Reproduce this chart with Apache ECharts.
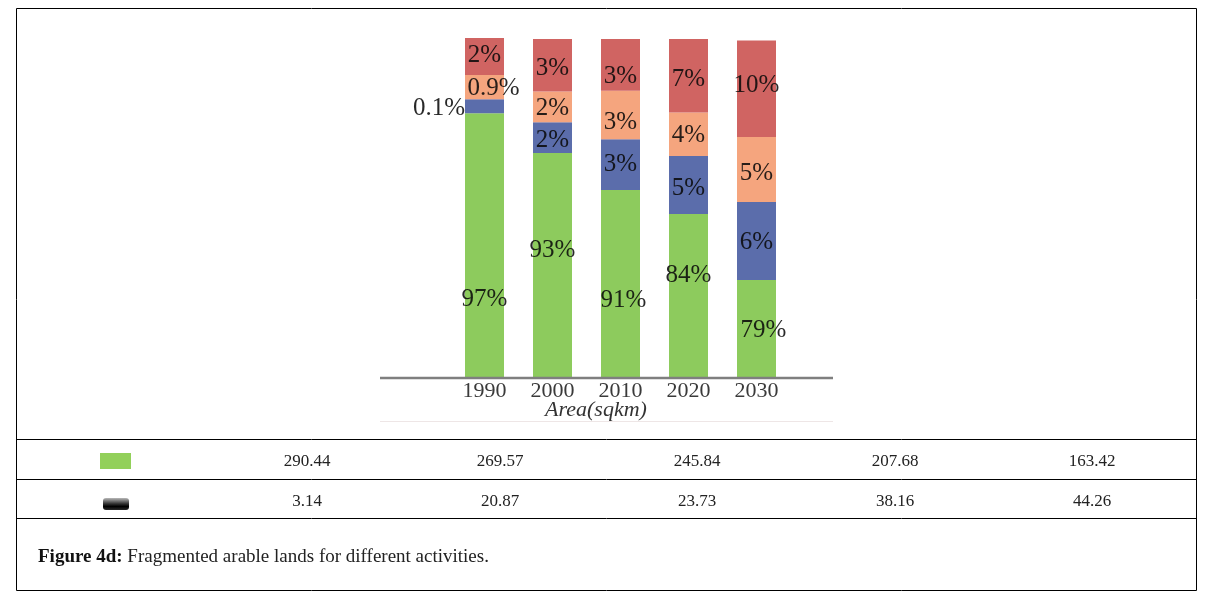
<!DOCTYPE html>
<html>
<head>
<meta charset="utf-8">
<script src="https://cdn.jsdelivr.net/npm/echarts@6/dist/echarts.min.js"></script>
<style>
html,body{margin:0;padding:0;background:#fff;}
#chart{width:1217px;height:601px;}
</style>
</head>
<body>
<div id="chart"></div>
<script>
// ---- data ----
var years = ['1990', '2000', '2010', '2020', '2030'];
// segment shares as drawn in the figure (bar height share, %)
var greenValues  = [77.9, 66.2, 55.3, 48.2, 28.8];
var blueValues   = [4.1, 9.0, 14.9, 17.1, 23.0];
var orangeValues = [7.1, 9.1, 14.3, 12.8, 19.1];
var redValues    = [10.9, 15.4, 15.2, 21.6, 28.4];
// percentage labels printed on the segments
var greenLabels  = ['97%', '93%', '91%', '84%', '79%'];
var blueLabels   = ['0.1%', '2%', '3%', '5%', '6%'];
var orangeLabels = ['0.9%', '2%', '3%', '4%', '5%'];
var redLabels    = ['2%', '3%', '3%', '7%', '10%'];
// table rows
var tableGreenRow = ['290.44', '269.57', '245.84', '207.68', '163.42'];
var tableBlackRow = ['3.14', '20.87', '23.73', '38.16', '44.26'];
var axisTitle = 'Area(sqkm)';
var captionBold = 'Figure 4d:';
var captionText = ' Fragmented arable lands for different activities.';

// ---- layout / style tweaks (not data) ----
var greenOffsets  = [[0, 54], [0, -15], [3, 16], [0, -21], [7, 1]];
var blueOffsets   = [[0, 2], [0, 3], [0, 0], [0, 3], [0, 1]];
var orangeOffsets = [[9, 1], [0, 2], [0, 7], [0, 1], [0, 4]];
var redOffsets    = [[0, -1], [0, 3], [0, 12], [0, 4], [0, -3]];

var chart = echarts.init(document.getElementById('chart'), null, {renderer: 'canvas'});
var serif = '"Liberation Serif", "DejaVu Serif", serif';

function build(values, offsets, extra) {
  return values.map(function (v, i) {
    var item = {value: v, label: {offset: offsets[i]}};
    if (extra && extra[i]) { Object.assign(item.label, extra[i]); }
    return item;
  });
}
function labelCfg(labels) {
  return {
    show: true,
    position: 'inside',
    fontFamily: serif,
    fontSize: 25,
    color: 'rgba(10,10,10,0.88)',
    formatter: function (p) { return labels[p.dataIndex]; }
  };
}

var blueExtra = [{position: 'left', distance: 0}];

var series = [
  {name: 'green', color: '#8dcb5d', values: greenValues, labels: greenLabels, offsets: greenOffsets},
  {name: 'blue', color: '#5b6dab', values: blueValues, labels: blueLabels, offsets: blueOffsets, extra: blueExtra},
  {name: 'orange', color: '#f5a57e', values: orangeValues, labels: orangeLabels, offsets: orangeOffsets},
  {name: 'red', color: '#d06462', values: redValues, labels: redLabels, offsets: redOffsets}
].map(function (s) {
  return {
    name: s.name,
    type: 'bar',
    stack: 'total',
    barWidth: 39,
    itemStyle: {color: s.color},
    label: labelCfg(s.labels),
    data: build(s.values, s.offsets, s.extra),
    emphasis: {disabled: true},
    animation: false
  };
});

// table graphics
var colCenters = [307, 500, 697, 895, 1092];
var graphics = [
  // outer frame
  {type: 'rect', shape: {x: 16.5, y: 8.5, width: 1180, height: 582}, style: {fill: 'none', stroke: '#000', lineWidth: 1}},
  {type: 'line', shape: {x1: 16.5, y1: 439.5, x2: 1196.5, y2: 439.5}, style: {stroke: '#000', lineWidth: 1}},
  {type: 'line', shape: {x1: 16.5, y1: 479.5, x2: 1196.5, y2: 479.5}, style: {stroke: '#000', lineWidth: 1}},
  {type: 'line', shape: {x1: 16.5, y1: 518.5, x2: 1196.5, y2: 518.5}, style: {stroke: '#000', lineWidth: 1}},
  // axis baseline
  {type: 'line', shape: {x1: 380, y1: 378, x2: 833, y2: 378}, style: {stroke: '#7f7f7f', lineWidth: 2.5}, z: 10},
  // faint image edge
  {type: 'line', shape: {x1: 380, y1: 421.5, x2: 833, y2: 421.5}, style: {stroke: '#eee6e6', lineWidth: 1}},
  // axis title
  {type: 'text', x: 596, y: 410, style: {text: axisTitle, fontFamily: serif, fontStyle: 'italic', fontSize: 22, fill: '#333', textAlign: 'center', textVerticalAlign: 'middle'}},
  // swatches
  {type: 'rect', shape: {x: 100, y: 453, width: 31, height: 16}, style: {fill: '#92d05a'}},
  {type: 'rect', shape: {x: 103, y: 498, width: 26, height: 12, r: 3},
   style: {fill: new echarts.graphic.LinearGradient(0, 0, 0, 1, [
     {offset: 0, color: '#b8b8b8'}, {offset: 0.45, color: '#3a3a3a'}, {offset: 0.7, color: '#000'}, {offset: 1, color: '#2a2a2a'}])}},
  // caption
  {type: 'text', x: 38, y: 557, style: {
    text: '{b|' + captionBold + '}{n|' + captionText + '}',
    textVerticalAlign: 'middle',
    rich: {
      b: {fontFamily: serif, fontWeight: 'bold', fontSize: 19, fill: '#111'},
      n: {fontFamily: serif, fontSize: 19, fill: '#222'}
    }}}
];
tableGreenRow.forEach(function (t, i) {
  graphics.push({type: 'text', x: colCenters[i], y: 462, style: {text: t, fontFamily: serif, fontSize: 17, fill: '#222', textAlign: 'center', textVerticalAlign: 'middle'}});
});
tableBlackRow.forEach(function (t, i) {
  graphics.push({type: 'text', x: colCenters[i], y: 502, style: {text: t, fontFamily: serif, fontSize: 17, fill: '#222', textAlign: 'center', textVerticalAlign: 'middle'}});
});

chart.setOption({
  animation: false,
  backgroundColor: '#fff',
  grid: {left: 450.5, top: 38, width: 340, height: 340},
  xAxis: {
    type: 'category',
    data: years,
    axisLine: {show: false},
    axisTick: {show: false},
    axisLabel: {fontFamily: serif, fontSize: 22, color: '#3a3a3a', margin: 2}
  },
  yAxis: {
    type: 'value',
    min: 0,
    max: 100,
    show: false
  },
  series: series,
  graphic: graphics
});
</script>
</body>
</html>
